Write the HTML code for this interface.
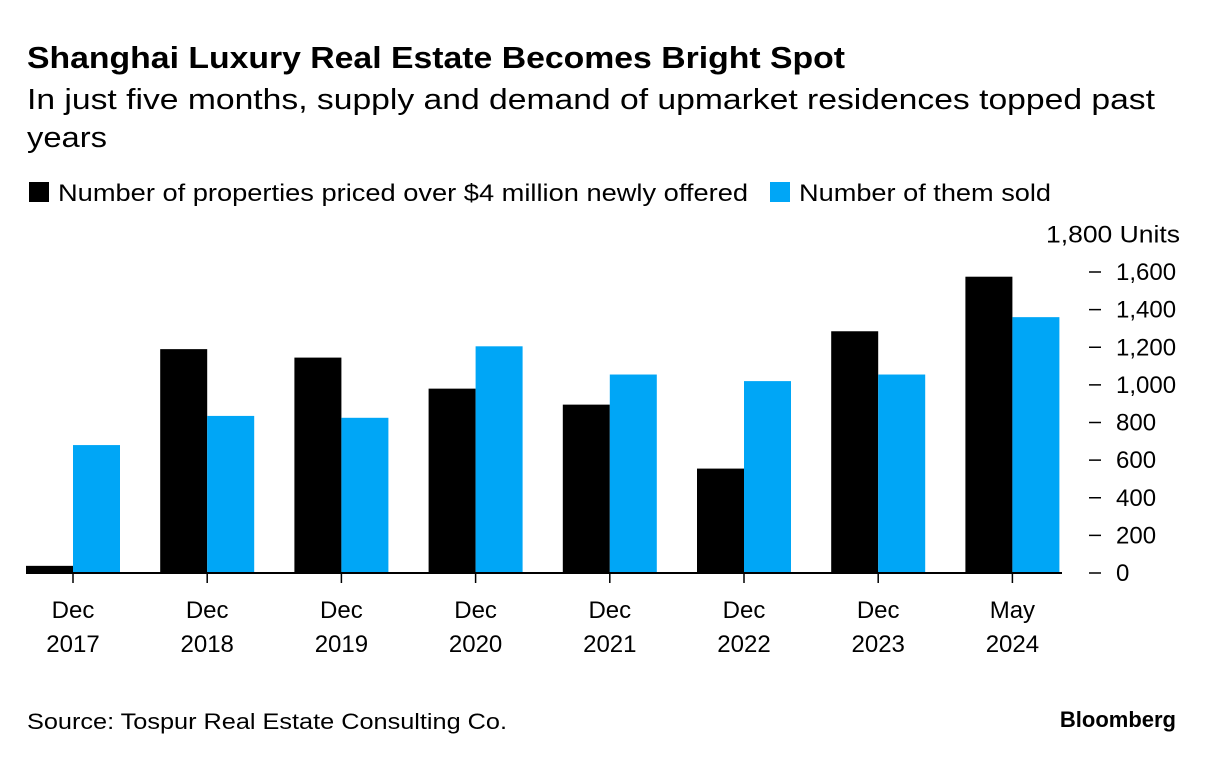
<!DOCTYPE html>
<html><head><meta charset="utf-8"><style>
body{margin:0;background:#fff;font-family:"Liberation Sans",sans-serif;}
svg text{font-family:"Liberation Sans",sans-serif;}
</style></head><body>
<svg width="1213" height="760">
<text x="27" y="68" font-size="31" font-weight="bold" fill="#000" textLength="818" lengthAdjust="spacingAndGlyphs">Shanghai Luxury Real Estate Becomes Bright Spot</text>
<text x="27" y="109" font-size="29" fill="#000" textLength="1128" lengthAdjust="spacingAndGlyphs">In just five months, supply and demand of upmarket residences topped past</text>
<text x="27" y="147" font-size="29" fill="#000" textLength="80" lengthAdjust="spacingAndGlyphs">years</text>
<rect x="29" y="182" width="20" height="20" fill="#000"/>
<text x="58" y="201" font-size="24" textLength="690" lengthAdjust="spacingAndGlyphs">Number of properties priced over $4 million newly offered</text>
<rect x="770" y="182" width="20" height="20" fill="#00a6f6"/>
<text x="799" y="201" font-size="24" textLength="252" lengthAdjust="spacingAndGlyphs">Number of them sold</text>
<g id="plot"></g>
<text x="27" y="729" font-size="22" textLength="480" lengthAdjust="spacingAndGlyphs">Source: Tospur Real Estate Consulting Co.</text>
<text x="1176" y="727" font-size="22" font-weight="bold" text-anchor="end">Bloomberg</text>
</svg>
<script>
const categoriesTop=["Dec","Dec","Dec","Dec","Dec","Dec","Dec","May"];
const categoriesBottom=["2017","2018","2019","2020","2021","2022","2023","2024"];
const offered=[38,1190,1145,980,895,555,1285,1575];
const sold=[680,835,825,1205,1055,1020,1055,1360];
const yTicks=[0,200,400,600,800,1000,1200,1400,1600];
const NS="http://www.w3.org/2000/svg";
const g=document.getElementById('plot');
const y0=573,yScale=(573-272)/1600;
const y=v=>y0-v*yScale;
const x=i=>73+i*134.2;
const bw=47;
function mk(t,a){const e=document.createElementNS(NS,t);for(const k in a)e.setAttribute(k,a[k]);g.appendChild(e);return e;}
offered.forEach((v,i)=>{const r=mk('rect',{x:x(i)-bw,y:y(v),width:bw,height:y0-y(v),fill:'#000'});

});
sold.forEach((v,i)=>{const r=mk('rect',{x:x(i),y:y(sold[i]),width:bw,height:y0-y(v),fill:'#00a6f6'});

});
const ax=mk('line',{x1:26,x2:1062,y1:y0,y2:y0,stroke:'#000','stroke-width':2});


categoriesBottom.forEach((c,i)=>{
const t=mk('line',{x1:x(i),x2:x(i),y1:y0,y2:y0+10,stroke:'#000','stroke-width':1.5});


const a=mk('text',{x:x(i),y:618,'font-size':24,'text-anchor':'middle'});a.textContent=categoriesTop[i];


const b=mk('text',{x:x(i),y:652,'font-size':24,'text-anchor':'middle'});b.textContent=c;


});
yTicks.forEach(v=>{
const l=mk('line',{x1:1089,x2:1101,y1:y(v),y2:y(v),stroke:'#000','stroke-width':1.5});


const t=mk('text',{x:1116,y:y(v)+8,'font-size':24});t.textContent=v.toLocaleString('en-US');


});
const u=mk('text',{x:1046,y:y(1800)+8,'font-size':24,textLength:134,lengthAdjust:'spacingAndGlyphs'});u.textContent='1,800 Units';


</script>
</body></html>
